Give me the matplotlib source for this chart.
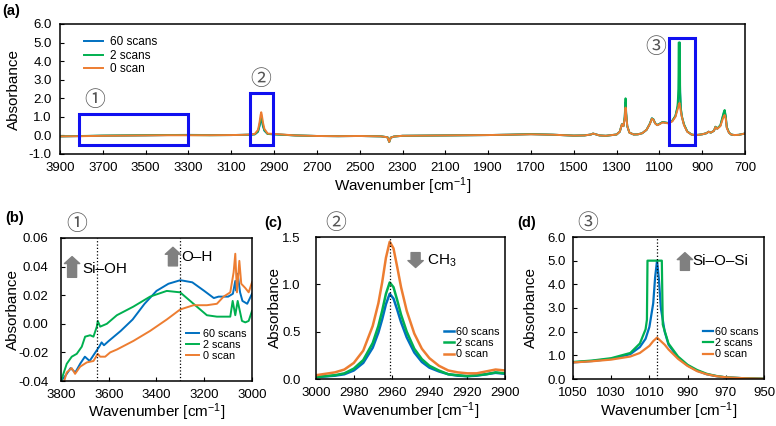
import numpy as np
import matplotlib
matplotlib.use('Agg')
import matplotlib.pyplot as plt
from matplotlib.patches import Rectangle
from matplotlib.ticker import FormatStrFormatter

plt.rcParams['font.family'] = ['Liberation Sans', 'DejaVu Sans']
plt.rcParams['mathtext.default'] = 'regular'
plt.rcParams['axes.unicode_minus'] = False

# ---- data ----
labels = ['60 scans', '2 scans', '0 scan']
colors = ['#0070C0', '#00B050', '#ED7D31']

# (a) full spectrum
wn_full = [3900, 3800, 3700, 3600, 3500, 3400, 3300, 3200, 3100, 3050, 3010, 2990,
           2975, 2968, 2963, 2960, 2957, 2952, 2945, 2930, 2900, 2850, 2800, 2700,
           2600, 2500, 2400, 2370, 2362, 2355, 2340, 2300, 2200, 2100, 2000, 1900,
           1800, 1700, 1600, 1500, 1450, 1420, 1410, 1400, 1380, 1350, 1300, 1285,
           1275, 1268, 1262, 1258, 1255, 1250, 1240, 1220, 1200, 1180, 1160, 1145,
           1135, 1128, 1120, 1110, 1100, 1085, 1075, 1060, 1040, 1025, 1015, 1011,
           1010, 1006, 1004, 1003, 1000, 995, 985, 970, 950, 935, 920, 900, 880,
           870, 860, 845, 838, 830, 815, 805, 798, 795, 790, 785, 775, 765, 750,
           730, 710, 700]
abs_full_0 = [-0.05, -0.04, -0.02, -0.01, 0.0, 0.01, 0.01, 0.01, 0.02, 0.03, 0.05, 0.08,
              0.30, 0.70, 1.10, 1.25, 1.10, 0.70, 0.35, 0.10, 0.08, 0.04, 0.0, -0.03,
              -0.04, -0.03, -0.05, -0.10, -0.35, -0.12, -0.06, -0.02, -0.01, 0.0, 0.01, 0.02,
              0.04, 0.06, 0.04, -0.01, 0.0, 0.05, 0.10, 0.07, 0.0, -0.02, 0.05, 0.20,
              0.60, 0.50, 0.90, 1.50, 1.10, 0.50, 0.15, 0.05, 0.06, 0.12, 0.30, 0.60,
              0.90, 0.85, 0.65, 0.55, 0.60, 0.70, 0.68, 0.65, 0.75, 1.00, 1.40, 1.55,
              1.65, 1.75, 1.62, 1.55, 1.30, 1.00, 0.55, 0.20, 0.05, 0.02, 0.03, 0.06, 0.12,
              0.20, 0.15, 0.25, 0.45, 0.35, 0.50, 0.85, 1.05, 1.10, 0.90, 0.40, 0.15, 0.05, 0.02,
              0.03, 0.08, 0.10]
abs_full_2 = [-0.05, -0.03, -0.01, 0.0, 0.01, 0.02, 0.02, 0.01, 0.02, 0.03, 0.04, 0.06,
              0.22, 0.55, 0.90, 1.00, 0.90, 0.55, 0.28, 0.08, 0.06, 0.03, 0.0, -0.03,
              -0.04, -0.03, -0.05, -0.10, -0.35, -0.12, -0.06, -0.02, -0.01, 0.0, 0.01, 0.02,
              0.04, 0.07, 0.04, -0.01, 0.0, 0.05, 0.10, 0.07, 0.0, -0.02, 0.05, 0.20,
              0.60, 0.50, 1.00, 2.00, 1.20, 0.50, 0.15, 0.05, 0.06, 0.12, 0.30, 0.62,
              0.92, 0.87, 0.66, 0.56, 0.62, 0.72, 0.70, 0.67, 0.78, 1.05, 1.60, 2.50,
              5.00, 5.00, 5.00, 2.30, 1.50, 1.05, 0.60, 0.22, 0.05, 0.02, 0.03, 0.06, 0.12,
              0.20, 0.15, 0.25, 0.47, 0.37, 0.55, 1.00, 1.30, 1.37, 1.05, 0.45, 0.16, 0.05, 0.02,
              0.03, 0.08, 0.10]
abs_full_60 = [-0.05, -0.035, -0.015, -0.005, 0.005, 0.02, 0.03, 0.02, 0.02, 0.03, 0.04, 0.06,
               0.20, 0.50, 0.80, 0.90, 0.80, 0.50, 0.25, 0.08, 0.06, 0.03, 0.0, -0.03,
               -0.04, -0.03, -0.05, -0.10, -0.35, -0.12, -0.06, -0.02, -0.01, 0.0, 0.01, 0.02,
               0.04, 0.07, 0.04, -0.01, 0.0, 0.05, 0.10, 0.07, 0.0, -0.02, 0.05, 0.20,
               0.60, 0.50, 0.95, 1.80, 1.15, 0.50, 0.15, 0.05, 0.06, 0.12, 0.30, 0.62,
               0.92, 0.87, 0.66, 0.56, 0.62, 0.72, 0.70, 0.67, 0.78, 1.05, 1.50, 2.00,
               2.20, 5.00, 3.00, 2.40, 1.45, 1.00, 0.58, 0.21, 0.05, 0.02, 0.03, 0.06, 0.12,
               0.20, 0.15, 0.25, 0.46, 0.36, 0.53, 0.95, 1.25, 1.30, 1.00, 0.43, 0.15, 0.05, 0.02,
               0.03, 0.08, 0.10]

# (b) region 1: O-H / Si-OH
wn_b_60 = [3800, 3780, 3760, 3740, 3720, 3700, 3680, 3660, 3640, 3630, 3620, 3600, 3550,
           3500, 3450, 3400, 3350, 3300, 3250, 3200, 3160, 3140, 3100, 3080, 3070, 3065,
           3060, 3050, 3040, 3020, 3000]
abs_b_60 = [-0.040, -0.036, -0.031, -0.034, -0.028, -0.023, -0.026, -0.021, -0.016, -0.013,
            -0.015, -0.012, -0.005, 0.003, 0.014, 0.023, 0.028, 0.0305, 0.029, 0.023, 0.018,
            0.019, 0.019, 0.021, 0.030, 0.023, 0.035, 0.022, 0.016, 0.014, 0.021]
wn_b_2 = [3800, 3776, 3755, 3734, 3713, 3699, 3678, 3664, 3650, 3646, 3636, 3608, 3566,
          3497, 3427, 3357, 3301, 3245, 3189, 3147, 3091, 3081, 3070, 3060, 3042, 3028,
          3014, 3000]
abs_b_2 = [-0.040, -0.028, -0.023, -0.021, -0.016, -0.009, -0.008, -0.009, -0.002, 0.002,
           -0.002, 0.000, 0.006, 0.012, 0.019, 0.023, 0.022, 0.014, 0.006, 0.005, 0.005,
           0.016, 0.006, 0.016, 0.002, 0.001, 0.002, 0.009]
wn_b_0 = [3800, 3790, 3776, 3755, 3741, 3720, 3692, 3664, 3646, 3636, 3615, 3594, 3566,
          3497, 3427, 3357, 3301, 3245, 3189, 3147, 3119, 3091, 3077, 3070, 3063, 3053,
          3045, 3028, 3014, 3000]
abs_b_0 = [-0.042, -0.042, -0.034, -0.031, -0.035, -0.030, -0.027, -0.026, -0.021, -0.023,
           -0.023, -0.020, -0.018, -0.012, -0.005, 0.003, 0.010, 0.013, 0.013, 0.014, 0.019,
           0.022, 0.036, 0.049, 0.022, 0.044, 0.028, 0.025, 0.022, 0.029]

# (c) region 2: CH3
wn_c = [3000, 2990, 2985, 2980, 2975, 2970, 2967, 2965, 2963, 2961, 2959, 2957, 2955,
        2952, 2948, 2944, 2940, 2935, 2930, 2925, 2920, 2915, 2910, 2905, 2900]
abs_c_60 = [0.02, 0.035, 0.05, 0.09, 0.17, 0.33, 0.49, 0.63, 0.79, 0.90, 0.85, 0.73, 0.60,
            0.44, 0.28, 0.18, 0.12, 0.08, 0.05, 0.035, 0.03, 0.035, 0.05, 0.065, 0.055]
abs_c_2 = [0.02, 0.04, 0.06, 0.11, 0.20, 0.38, 0.56, 0.72, 0.90, 1.02, 0.97, 0.83, 0.68,
           0.50, 0.32, 0.21, 0.14, 0.09, 0.05, 0.04, 0.03, 0.04, 0.05, 0.07, 0.06]
abs_c_0 = [0.04, 0.07, 0.10, 0.17, 0.30, 0.56, 0.80, 1.02, 1.28, 1.45, 1.38, 1.18, 0.97,
           0.72, 0.48, 0.32, 0.22, 0.14, 0.09, 0.07, 0.06, 0.06, 0.08, 0.10, 0.09]

# (d) region 3: Si-O-Si
wn_d_60 = [1050, 1040, 1030, 1020, 1015, 1012, 1010, 1008, 1007, 1006, 1005, 1004, 1002,
           1000, 995, 990, 985, 980, 975, 970, 960, 950]
abs_d_60 = [0.70, 0.76, 0.85, 1.05, 1.35, 1.70, 2.20, 3.20, 4.30, 5.00, 4.20, 3.00, 2.00,
            1.45, 0.90, 0.57, 0.35, 0.20, 0.12, 0.07, 0.03, 0.01]
wn_d_2 = [1050, 1040, 1030, 1020, 1015, 1012, 1011.3, 1011, 1003.5, 1003, 1000, 995, 990,
          985, 980, 975, 970, 960, 950]
abs_d_2 = [0.72, 0.78, 0.88, 1.10, 1.50, 2.10, 2.50, 5.00, 5.00, 2.30, 1.50, 0.95, 0.60,
           0.38, 0.22, 0.13, 0.07, 0.03, 0.01]
wn_d_0 = [1050, 1040, 1030, 1020, 1015, 1010, 1008, 1006, 1004, 1002, 1000, 995, 990, 985,
          980, 975, 970, 960, 950]
abs_d_0 = [0.70, 0.75, 0.82, 0.95, 1.10, 1.40, 1.60, 1.75, 1.60, 1.45, 1.25, 0.85, 0.55,
           0.33, 0.20, 0.12, 0.07, 0.03, 0.01]

# boxes marking the zoomed regions in (a): (wn_left, wn_right, bottom, top)
boxes = [(3810, 3302, -0.52, 1.15), (3013, 2905, -0.52, 2.3), (1057, 934, -0.52, 5.25)]
circled = ['\u2460', '\u2461', '\u2462']

fig = plt.figure(figsize=(7.76, 4.26), dpi=100)
W, H = 776, 426


def add_ax(l, t, r, b):
    return fig.add_axes([l / W, 1 - b / H, (r - l) / W, (b - t) / H])


def style(ax, ypad, ylab_x, xlab_y, xpad=6, fs=9.5):
    ax.tick_params(direction='in', length=3, labelsize=fs, width=0.8)
    ax.tick_params(axis='x', pad=xpad)
    ax.tick_params(axis='y', pad=ypad)
    for s in ax.spines.values():
        s.set_linewidth(1.1)
    ax.set_xlabel(r'Wavenumber [cm$^{\mathregular{-1}}$]', fontsize=11)
    ax.set_ylabel('Absorbance', fontsize=11)
    ax.yaxis.set_label_coords(ylab_x, 0.5)
    ax.xaxis.set_label_coords(0.5, xlab_y)
    ax.xaxis.label.set_va('center')
    ax.yaxis.label.set_va('center')


cjk = ['Noto Sans CJK JP', 'DejaVu Sans']
circ_color = '#555555'
circ_fs = 15

# ---- (a) ----
ax = add_ax(60, 24, 745, 154)
series_a = [abs_full_60, abs_full_2, abs_full_0]
for y, c, lab in zip(series_a, colors, labels):
    ax.plot(wn_full, y, color=c, lw=1.4, label=lab)
ax.set_xlim(3900, 700)
ax.set_ylim(-1, 6)
ax.set_xticks(np.arange(3900, 699, -200))
ax.set_yticks(np.arange(-1, 6.1, 1))
ax.yaxis.set_major_formatter(FormatStrFormatter('%.1f'))
style(ax, ypad=6, ylab_x=-0.067, xlab_y=-0.25)
ax.legend(loc='upper left', bbox_to_anchor=(0.02, 0.99), frameon=False, fontsize=8.5,
          handlelength=1.6, handletextpad=0.6, labelspacing=0.15)
for (x0, x1, y0, y1) in boxes:
    ax.add_patch(Rectangle((x0, y0), x1 - x0, y1 - y0, fill=False, ec='#1010F0', lw=2.2,
                           zorder=5))
ax.text(3740, 1.9, circled[0], fontsize=circ_fs, color=circ_color, family=cjk, ha='center',
        va='center')
ax.text(2960, 3.05, circled[1], fontsize=circ_fs, color=circ_color, family=cjk, ha='center',
        va='center')
ax.text(1115, 4.75, circled[2], fontsize=circ_fs, color=circ_color, family=cjk, ha='center',
        va='center')
fig.text(2 / W, 1 - 11 / H, '(a)', fontsize=10.5, fontweight='bold', va='center')

arrow_kw = dict(arrowstyle='simple,head_length=0.5,head_width=1.1,tail_width=0.65',
                color='#808080', shrinkA=0, shrinkB=0, mutation_scale=10)

# ---- (b) ----
ax = add_ax(61, 238, 252, 381)
for (x, y), c, lab in zip([(wn_b_60, abs_b_60), (wn_b_2, abs_b_2), (wn_b_0, abs_b_0)],
                          colors, labels):
    ax.plot(x, y, color=c, lw=1.4, label=lab)
ax.set_xlim(3800, 3000)
ax.set_ylim(-0.04, 0.06)
ax.set_xticks([3800, 3600, 3400, 3200, 3000])
ax.set_yticks(np.arange(-0.04, 0.061, 0.02))
ax.yaxis.set_major_formatter(FormatStrFormatter('%.2f'))
ax.axvline(3650, color='k', ls=':', lw=0.9)
ax.axvline(3300, color='k', ls=':', lw=0.9)
style(ax, ypad=9, ylab_x=-0.25, xlab_y=-0.215)
ax.legend(loc='lower right', bbox_to_anchor=(1.02, 0.07), frameon=False, fontsize=7.8,
          handlelength=1.2, handletextpad=0.3, labelspacing=0.1)
ax.annotate('', xy=(0.058, 0.87), xytext=(0.058, 0.725), xycoords='axes fraction',
            arrowprops=arrow_kw)
ax.text(0.11, 0.78, 'Si\u2013OH', transform=ax.transAxes, fontsize=11, va='center')
ax.annotate('', xy=(0.586, 0.935), xytext=(0.586, 0.805), xycoords='axes fraction',
            arrowprops=arrow_kw)
ax.text(0.63, 0.87, 'O\u2013H', transform=ax.transAxes, fontsize=11, va='center')
ax.text(0.08, 1.1, circled[0], transform=ax.transAxes, fontsize=circ_fs, color=circ_color,
        family=cjk, ha='center', va='center')
fig.text(5 / W, 1 - 218 / H, '(b)', fontsize=10.5, fontweight='bold', va='center')

# ---- (c) ----
ax = add_ax(316, 237, 505, 379)
for y, c, lab in zip([abs_c_60, abs_c_2, abs_c_0], colors, labels):
    ax.plot(wn_c, y, color=c, lw=1.8, label=lab)
ax.set_xlim(3000, 2900)
ax.set_ylim(0, 1.5)
ax.set_xticks(np.arange(3000, 2899, -20))
ax.set_yticks([0, 0.5, 1.0, 1.5])
ax.yaxis.set_major_formatter(FormatStrFormatter('%.1f'))
ax.axvline(2961, color='k', ls=':', lw=0.9)
style(ax, ypad=11, ylab_x=-0.215, xlab_y=-0.23)
ax.legend(loc='lower right', bbox_to_anchor=(1.02, 0.07), frameon=False, fontsize=7.8,
          handlelength=1.0, handletextpad=0.1, labelspacing=0.1)
ax.annotate('', xy=(0.527, 0.785), xytext=(0.527, 0.89), xycoords='axes fraction',
            arrowprops=arrow_kw)
ax.text(0.585, 0.835, 'CH$_3$', transform=ax.transAxes, fontsize=11, va='center')
ax.text(0.105, 1.1, circled[1], transform=ax.transAxes, fontsize=circ_fs, color=circ_color,
        family=cjk, ha='center', va='center')
fig.text(264 / W, 1 - 223 / H, '(c)', fontsize=10.5, fontweight='bold', va='center')

# ---- (d) ----
ax = add_ax(573, 237, 764, 379)
for (x, y), c, lab in zip([(wn_d_60, abs_d_60), (wn_d_2, abs_d_2), (wn_d_0, abs_d_0)],
                          colors, labels):
    ax.plot(x, y, color=c, lw=1.6, label=lab)
ax.set_xlim(1050, 950)
ax.set_ylim(0, 6)
ax.set_xticks(np.arange(1050, 949, -20))
ax.set_yticks(np.arange(0, 6.1, 1))
ax.yaxis.set_major_formatter(FormatStrFormatter('%.1f'))
ax.axvline(1006, color='k', ls=':', lw=0.9)
style(ax, ypad=5, ylab_x=-0.22, xlab_y=-0.23)
ax.legend(loc='lower right', bbox_to_anchor=(1.02, 0.07), frameon=False, fontsize=7.8,
          handlelength=1.0, handletextpad=0.1, labelspacing=0.1)
ax.annotate('', xy=(0.586, 0.89), xytext=(0.586, 0.765), xycoords='axes fraction',
            arrowprops=arrow_kw)
ax.text(0.625, 0.83, 'Si\u2013O\u2013Si', transform=ax.transAxes, fontsize=11,
        va='center')
ax.text(0.075, 1.1, circled[2], transform=ax.transAxes, fontsize=circ_fs, color=circ_color,
        family=cjk, ha='center', va='center')
fig.text(517 / W, 1 - 223 / H, '(d)', fontsize=10.5, fontweight='bold', va='center')

fig.savefig('out.png', dpi=100)
